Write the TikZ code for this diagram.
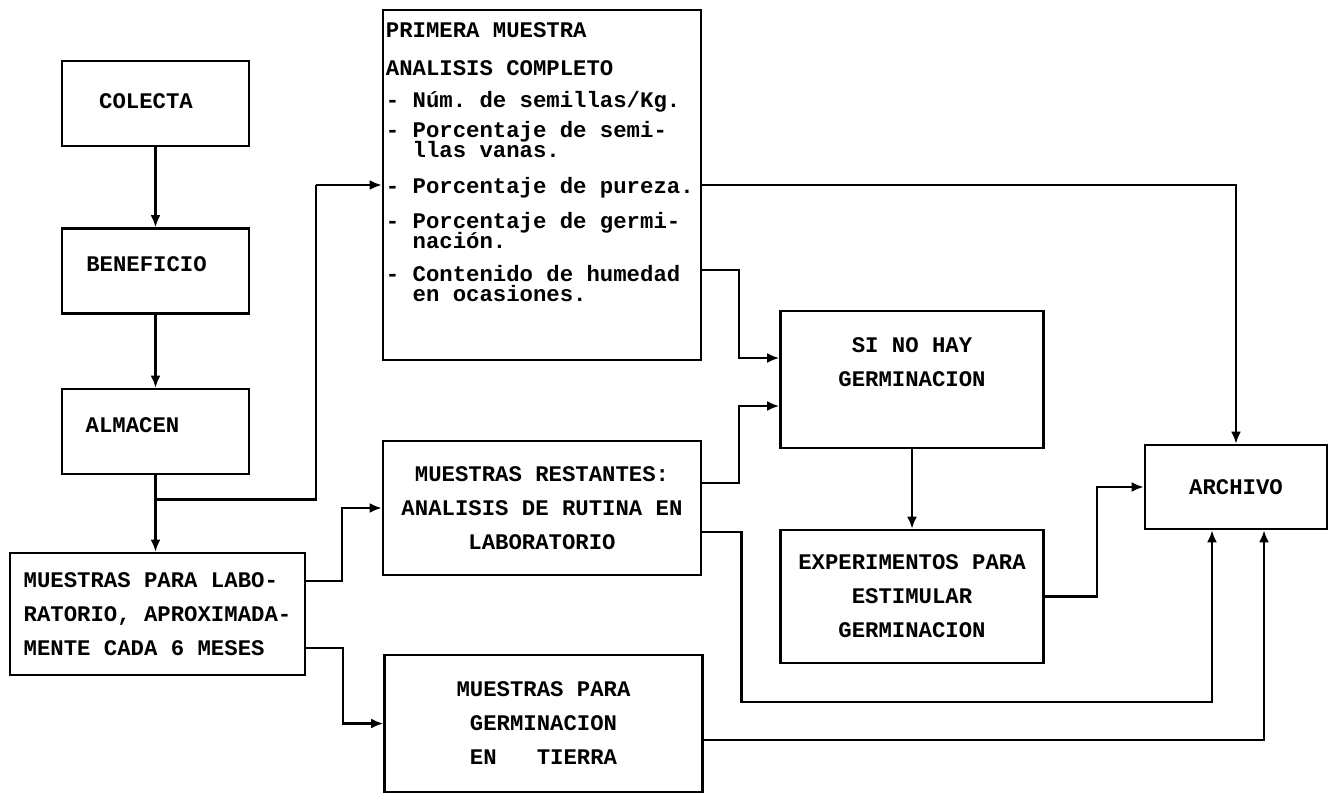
\documentclass[tikz,border=0pt]{standalone}
\usepackage{fontspec}
\setmonofont{Liberation Mono}
\usetikzlibrary{calc}
\usetikzlibrary{math}
\usetikzlibrary{arrows.meta}
\newcommand{\tightskip}{\lineskiplimit=-30pt\relax}

\begin{document}
\begin{tikzpicture}[x=1pt, y=-1pt]
    \tikzmath {
        \colW = 187;
        \colH = 85;
        \midW = 318;
        \rgtW = 263;
        \padB = 40;
    }

    \tikzstyle{blk}=[draw, line width=2.6pt, inner sep=0pt, align=center, font=\ttfamily\bfseries\fontsize{22.3}{34}\selectfont]
    \tikzstyle{lbl}=[inner sep=0pt, font=\ttfamily\bfseries\fontsize{22.3}{34}\selectfont]
    \tikzstyle{txt}=[inner sep=0pt, align=left, font=\ttfamily\bfseries\fontsize{22.3}{20}\selectfont\tightskip]
    \tikzstyle{wire}=[line width=2.4pt]
    \tikzstyle{arr}=[wire, -{Latex[length=12pt, width=10pt]}]

    \useasboundingbox (0,0) rectangle (1329,795);

    % left column
    \coordinate (colecta_c) at (155.5, 103.5);
    \node[blk, minimum width=\colW, minimum height=\colH] (colecta) at (colecta_c) {};
    \node[lbl] (colecta_txt) at ($(colecta_c) + (-9.5, -2.5)$) {COLECTA};

    \coordinate (beneficio_c) at ($(colecta_c) + (0, 167.5)$);
    \node[blk, minimum width=\colW, minimum height=\colH] (beneficio) at (beneficio_c) {};
    \node[lbl] (beneficio_txt) at ($(beneficio_c) + (-9, -7)$) {BENEFICIO};

    \coordinate (almacen_c) at ($(beneficio_c) + (0, 160.5)$);
    \node[blk, minimum width=\colW, minimum height=\colH] (almacen) at (almacen_c) {};
    \node[lbl] (almacen_txt) at ($(almacen_c) + (-23, -6.5)$) {ALMACEN};

    \coordinate (lab_c) at (157.5, 614);
    \node[blk, minimum width=295, minimum height=122, align=left] (lab) at (lab_c) {MUESTRAS PARA LABO-\\RATORIO, APROXIMADA-\\MENTE CADA 6 MESES};

    % middle column
    \coordinate (primera_c) at (542, 185);
    \node[blk, minimum width=\midW, minimum height=350] (primera) at (primera_c) {};
    \node[txt, anchor=north west] (primera_txt) at ($(primera.north west) + (4, 13.6)$) {PRIMERA MUESTRA\\[18pt]
        ANALISIS COMPLETO\\[12pt]
        - Núm. de semillas/Kg.\\[10pt]
        - Porcentaje de semi-\\
        ~~llas vanas.\\[16pt]
        - Porcentaje de pureza.\\[15pt]
        - Porcentaje de germi-\\
        ~~nación.\\[13pt]
        - Contenido de humedad\\
        ~~en ocasiones.};

    \coordinate (restantes_c) at (542, 508);
    \node[blk, minimum width=\midW, minimum height=134] (restantes) at (restantes_c) {MUESTRAS RESTANTES:\\ANALISIS DE RUTINA EN\\LABORATORIO};

    \coordinate (tierra_c) at (543.5, 723.5);
    \node[blk, minimum width=\midW, minimum height=137] (tierra) at (tierra_c) {MUESTRAS PARA\\GERMINACION\\EN~~~TIERRA};

    % right side
    \coordinate (sinohay_c) at (912, 379.5);
    \node[blk, minimum width=\rgtW, minimum height=137] (sinohay) at (sinohay_c) {SI NO HAY\\GERMINACION\\~};

    \coordinate (experimentos_c) at ($(sinohay_c) + (0, 217)$);
    \node[blk, minimum width=\rgtW, minimum height=133] (experimentos) at (experimentos_c) {EXPERIMENTOS PARA\\ESTIMULAR\\GERMINACION};

    \coordinate (archivo_c) at (1236, 487);
    \node[blk, minimum width=182, minimum height=84] (archivo) at (archivo_c) {ARCHIVO};

    % connectors
    \draw[arr] (colecta) -- (beneficio);
    \draw[arr] (beneficio) -- (almacen);

    \path let \p1=(almacen_c),\p2=(lab.north) in coordinate (lab_in) at (\x1,\y2);
    \draw[arr] (almacen) -- (lab_in);

    \coordinate (alm_split) at ($(almacen.south) + (0, 24)$);
    \coordinate (prim_bus) at ($(primera.west) + (-66, 0)$);
    \draw[wire] (alm_split) -| (prim_bus);
    \draw[arr] (prim_bus) -- (primera);

    \draw[arr] (primera.east) -| (archivo.north);

    \coordinate (prim_out2) at ($(primera.east) + (0, 85)$);
    \coordinate (si_in1) at ($(sinohay.west) + (0, -21.5)$);
    \coordinate (si_in2) at ($(sinohay.west) + (0, 26.5)$);
    \draw[arr] (prim_out2) -| ($(si_in1) + (-\padB, 0)$) -- (si_in1);

    \coordinate (rest_out1) at ($(restantes.east) + (0, -25)$);
    \coordinate (rest_out2) at ($(restantes.east) + (0, 24)$);
    \draw[arr] (rest_out1) -| ($(si_in2) + (-\padB, 0)$) -- (si_in2);

    \coordinate (arch_in1) at ($(archivo.south) + (-24, 0)$);
    \coordinate (arch_in2) at ($(archivo.south) + (28, 0)$);
    \draw[arr] (rest_out2) -| ++(39, 170) -| (arch_in1);

    \coordinate (tierra_out) at ($(tierra.east) + (0, 16.5)$);
    \draw[arr] (tierra_out) -| (arch_in2);

    \draw[arr] (sinohay) -- (experimentos);
    \draw[arr] (experimentos.east) -- ++(52, 0) |- (archivo.west);

    \coordinate (lab_out1) at ($(lab.east) + (0, -33)$);
    \coordinate (lab_out2) at ($(lab.east) + (0, 34)$);
    \draw[arr] (lab_out1) -| ($(restantes.west) + (-\padB, 0)$) -- (restantes.west);
    \draw[arr] (lab_out2) -| ($(tierra.west) + (-\padB, 0)$) -- (tierra.west);
\end{tikzpicture}
\end{document}
